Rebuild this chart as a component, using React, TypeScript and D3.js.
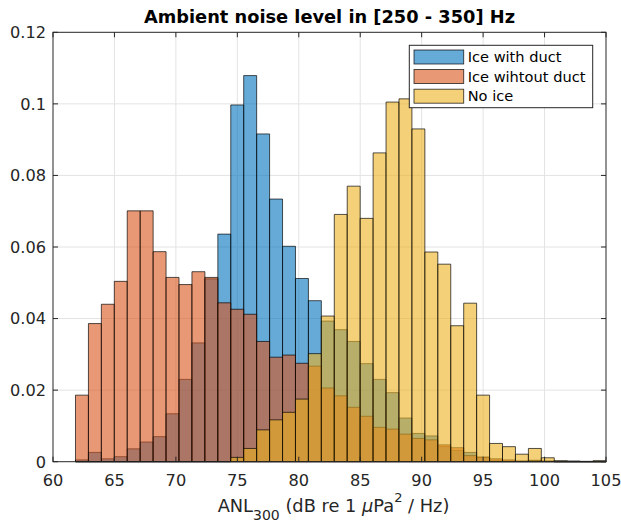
import React from "react";
import * as d3 from "d3";

// histogram bins (dB), shared by the three series
const binStart = 61.83;
const binWidth = 1.053;
const binCount = 41;
const binEdges = d3.range(binCount + 1).map((i) => binStart + i * binWidth);

const seriesNames = ["Ice with duct", "Ice wihtout duct", "No ice"];

const iceWithDuct = [
  0.0005, 0.0026, 0.0008, 0.0014, 0.0036, 0.0055, 0.007, 0.0134, 0.023, 0.0332,
  0.0511, 0.0636, 0.0997, 0.1079, 0.0916, 0.0734, 0.0602, 0.0512, 0.045, 0.0393,
  0.0369, 0.0336, 0.0274, 0.023, 0.0193, 0.0122, 0.0079, 0.0072, 0.0042, 0.0032,
  0.0026, 0.0012, 0.0004, 0.0002, 0.0001, 0.0004, 0.0001, 0, 0, 0, 0,
];

const iceWithoutDuct = [
  0.0186, 0.0386, 0.044, 0.0504, 0.0701, 0.0701, 0.0587, 0.0515, 0.0495, 0.0531,
  0.0515, 0.0444, 0.0426, 0.0412, 0.0336, 0.0292, 0.0298, 0.0275, 0.0267, 0.0206,
  0.0184, 0.0152, 0.0127, 0.0096, 0.0091, 0.0077, 0.0065, 0.0061, 0.0047, 0.0039,
  0.0017, 0.0013, 0.0008, 0.0005, 0.0002, 0.0003, 0.0002, 0, 0, 0, 0,
];

const noIce = [
  0, 0, 0, 0, 0, 0, 0, 0, 0, 0,
  0, 0, 0.0012, 0.0037, 0.0089, 0.0117, 0.0138, 0.0175, 0.0302, 0.0407,
  0.0691, 0.077, 0.068, 0.0863, 0.1005, 0.1014, 0.093, 0.0586, 0.0552, 0.038,
  0.0443, 0.0186, 0.0051, 0.0042, 0.0021, 0.0037, 0.0011, 0.0003, 0.0002, 0.0001, 0.0003,
];

const xTicks = [60, 65, 70, 75, 80, 85, 90, 95, 100, 105];
const yTicks = [0, 0.02, 0.04, 0.06, 0.08, 0.1, 0.12];

const colors = ["#0072BD", "#D95319", "#EDB120"];
const font = "'DejaVu Sans', sans-serif";
const ink = "#262626";

const App: React.FC = () => {
  const left = 53;
  const right = 606;
  const top = 32.3;
  const bottom = 461.7;

  const x = d3.scaleLinear().domain([60, 105]).range([left, right]);
  const y = d3.scaleLinear().domain([0, 0.12]).range([bottom, top]);

  const allSeries = [iceWithDuct, iceWithoutDuct, noIce];

  const barPath = (i: number, v: number) => {
    const x0 = x(binEdges[i]);
    const x1 = x(binEdges[i + 1]);
    const y0 = y(0);
    const y1 = y(v);
    return `M${x0},${y0}V${y1}H${x1}V${y0}Z`;
  };

  const yFmt = (d: number) => (d === 0 ? "0" : String(+d.toFixed(2)));

  const legendRows = [57, 76.5, 96.2];

  return (
    <svg
      width={621}
      height={521}
      style={{ position: "absolute", left: 0, top: 0, background: "#fff" }}
      fontFamily={font}
    >
      <rect x={0} y={0} width={621} height={521} fill="#fff" />

      {/* grid */}
      <g stroke="#e3e3e3" strokeWidth={1}>
        {xTicks.slice(1, -1).map((t) => (
          <line key={"gx" + t} x1={x(t)} x2={x(t)} y1={top} y2={bottom} />
        ))}
        {yTicks.slice(1, -1).map((t) => (
          <line key={"gy" + t} x1={left} x2={right} y1={y(t)} y2={y(t)} />
        ))}
      </g>

      {/* bars */}
      {allSeries.map((s, si) => (
        <g key={si} fill={colors[si]} fillOpacity={0.6} stroke="#000" strokeOpacity={0.75} strokeWidth={0.9}>
          {s.map((v, i) => (
            <path key={i} d={barPath(i, v)} />
          ))}
        </g>
      ))}

      {/* axes box */}
      <rect x={left} y={top} width={right - left} height={bottom - top} fill="none" stroke={ink} strokeWidth={1} />
      <g stroke={ink} strokeWidth={1}>
        {xTicks.map((t) => (
          <g key={"tx" + t}>
            <line x1={x(t)} x2={x(t)} y1={bottom} y2={bottom - 5} />
            <line x1={x(t)} x2={x(t)} y1={top} y2={top + 5} />
          </g>
        ))}
        {yTicks.map((t) => (
          <g key={"ty" + t}>
            <line x1={left} x2={left + 5} y1={y(t)} y2={y(t)} />
            <line x1={right} x2={right - 5} y1={y(t)} y2={y(t)} />
          </g>
        ))}
      </g>

      {/* tick labels */}
      <g fill={ink} fontSize={16.2}>
        {xTicks.map((t) => (
          <text key={"lx" + t} x={x(t)} y={bottom + 24} textAnchor="middle">
            {t}
          </text>
        ))}
        {yTicks.map((t) => (
          <text key={"ly" + t} x={left - 7} y={y(t)} dy="0.36em" textAnchor="end">
            {yFmt(t)}
          </text>
        ))}
      </g>

      {/* title */}
      <text x={(left + right) / 2} y={23} textAnchor="middle" fontWeight="bold" fontSize={17.8} fill="#000">
        Ambient noise level in [250 - 350] Hz
      </text>

      {/* x label */}
      <text x={333.5} y={511.5} textAnchor="middle" fontSize={17.8} fill={ink}>
        ANL
        <tspan fontSize={14} dy={8}>300</tspan>
        <tspan dy={-8}> (dB re 1 </tspan>
        <tspan fontStyle="italic">μ</tspan>
        <tspan>Pa</tspan>
        <tspan fontSize={13} dy={-9.5}>2</tspan>
        <tspan dy={9.5}> / Hz)</tspan>
      </text>

      {/* legend */}
      <g>
        <rect x={409.3} y={45.3} width={183.4} height={62.4} fill="#fff" stroke={ink} strokeWidth={1} />
        {seriesNames.map((name, i) => (
          <g key={name}>
            <rect
              x={414}
              y={legendRows[i] - 7}
              width={49.7}
              height={14}
              fill={colors[i]}
              fillOpacity={0.6}
              stroke="#000"
              strokeOpacity={0.75}
              strokeWidth={0.9}
            />
            <text x={467.7} y={legendRows[i]} dy="0.36em" fontSize={14.6} fill="#000">
              {name}
            </text>
          </g>
        ))}
      </g>
    </svg>
  );
};

export default App;
